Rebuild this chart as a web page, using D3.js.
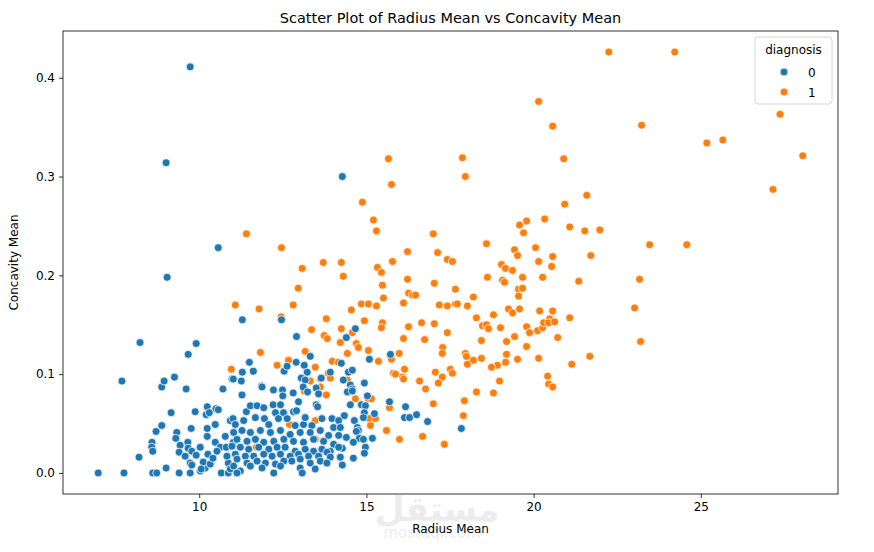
<!DOCTYPE html>
<html>
<head>
<meta charset="utf-8">
<script src="https://cdn.jsdelivr.net/npm/d3@7"></script>
<style>
	body { margin: 0; background: #fff; }
	text { font-family: 'DejaVu Sans', sans-serif; fill: #000; }
</style>
</head>
<body>
<div id="vis"></div>
<script>
// diagnosis 0 (benign) - radius mean / concavity mean
var benignRadius = [
	6.98, 7.75, 8.61, 8.73, 9.01, 9.40, 9.73, 10.03, 10.18, 10.66, 10.87, 10.12, 10.06, 10.33, 10.87, 10.93,
	9.73, 9.78, 8.20, 8.59, 8.58, 8.61, 8.71, 8.88, 8.88, 8.95, 9.26, 9.61, 10.71, 10.98, 9.91, 9.67,
	8.23, 7.69, 9.16, 9.88, 10.24, 10.50, 10.57, 10.21, 10.30, 10.93, 11.01, 10.48, 9.76, 10.24, 9.33, 9.30,
	10.24, 10.78, 9.43, 9.66, 9.67, 9.78, 9.40, 9.58, 10.03, 10.48, 10.63, 10.53, 10.81, 11.02, 10.26, 10.41,
	9.91, 10.83,
	9.73, 9.01, 9.04, 10.57, 14.28, 11.29, 12.46, 12.91, 13.32, 11.50, 11.29, 11.62, 11.02, 11.26, 11.86, 12.22,
	12.49, 12.54, 12.63, 12.90, 13.14, 13.23, 13.05, 13.17, 13.11, 13.65, 13.92, 13.50, 14.31, 14.67, 14.40, 15.72,
	15.09, 14.25, 14.46, 14.58, 14.94, 14.52, 14.58, 14.43, 14.58, 15.03, 14.85, 14.52, 14.97, 14.94, 14.91, 15.24,
	14.34, 14.64, 15.69, 16.17, 16.14, 16.29, 16.50, 16.83, 14.73, 14.76, 14.70, 14.40, 14.79, 14.91, 15.18, 14.61,
	14.97, 14.28, 14.94, 14.61, 14.28, 17.84,
	11.28, 11.88, 12.50, 12.81, 12.97, 13.24, 13.57, 11.41, 11.53, 11.73, 11.93, 12.21, 12.43, 12.28, 12.52, 12.82,
	12.91, 13.50, 13.54, 11.08, 11.33, 11.68, 11.95, 12.08, 12.37, 12.63, 12.87, 13.12, 13.37, 13.67, 13.97, 14.17,
	14.02, 14.22, 13.17, 11.03, 11.28, 11.53, 11.83, 12.13, 12.43, 12.72, 13.02, 13.32, 13.62, 13.87, 14.17, 11.13,
	11.43, 11.68, 11.93, 12.23, 12.53, 12.82, 13.12, 13.42, 13.72, 14.02, 10.98, 11.23, 11.48, 11.78, 12.08, 12.33,
	12.57, 12.87, 13.17, 13.42, 13.67, 13.92, 14.17, 11.08, 11.38, 11.63, 11.93, 12.18, 12.43, 12.72, 12.97, 13.27,
	13.57, 13.82, 11.13, 11.43, 11.73, 11.98, 12.28, 12.53, 12.77, 13.02, 13.32, 13.62, 13.92, 14.22, 11.03, 11.23,
	11.53, 11.88, 12.43, 13.02, 13.47, 13.82, 11.13, 12.23, 13.08
];
var benignConcavity = [
	0.000, 0.000, 0.000, 0.000, 0.005, 0.000, 0.000, 0.002, 0.005, 0.000, 0.000, 0.011, 0.004, 0.009, 0.010, 0.004,
	0.010, 0.008, 0.016, 0.031, 0.026, 0.022, 0.042, 0.048, 0.087, 0.093, 0.097, 0.085, 0.085, 0.095, 0.131, 0.120,
	0.132, 0.093, 0.061, 0.062, 0.067, 0.065, 0.064, 0.059, 0.061, 0.053, 0.055, 0.049, 0.045, 0.045, 0.041, 0.035,
	0.037, 0.037, 0.028, 0.031, 0.025, 0.022, 0.021, 0.017, 0.026, 0.031, 0.026, 0.022, 0.026, 0.031, 0.019, 0.015,
	0.018, 0.017,
	0.411, 0.314, 0.198, 0.228, 0.300, 0.155, 0.155, 0.138, 0.118, 0.112, 0.102, 0.103, 0.095, 0.093, 0.088, 0.084,
	0.084, 0.103, 0.108, 0.112, 0.109, 0.102, 0.096, 0.094, 0.087, 0.096, 0.102, 0.086, 0.094, 0.146, 0.137, 0.120,
	0.115, 0.111, 0.102, 0.104, 0.091, 0.089, 0.085, 0.082, 0.083, 0.078, 0.069, 0.069, 0.068, 0.061, 0.056, 0.060,
	0.058, 0.053, 0.072, 0.067, 0.056, 0.056, 0.059, 0.052, 0.046, 0.043, 0.042, 0.036, 0.035, 0.034, 0.035, 0.031,
	0.026, 0.025, 0.020, 0.015, 0.008, 0.045,
	0.079, 0.087, 0.078, 0.081, 0.072, 0.082, 0.080, 0.062, 0.068, 0.068, 0.066, 0.069, 0.069, 0.061, 0.061, 0.062,
	0.063, 0.069, 0.067, 0.049, 0.053, 0.056, 0.055, 0.049, 0.055, 0.055, 0.048, 0.049, 0.048, 0.055, 0.055, 0.053,
	0.046, 0.046, 0.056, 0.041, 0.043, 0.041, 0.043, 0.041, 0.043, 0.039, 0.041, 0.041, 0.043, 0.038, 0.038, 0.034,
	0.032, 0.034, 0.031, 0.032, 0.034, 0.032, 0.031, 0.034, 0.032, 0.029, 0.027, 0.026, 0.024, 0.026, 0.024, 0.026,
	0.026, 0.022, 0.024, 0.022, 0.024, 0.022, 0.026, 0.019, 0.017, 0.017, 0.019, 0.017, 0.019, 0.017, 0.019, 0.017,
	0.017, 0.021, 0.014, 0.010, 0.012, 0.010, 0.009, 0.012, 0.012, 0.014, 0.010, 0.012, 0.016, 0.016, 0.007, 0.002,
	0.007, 0.005, 0.007, 0.005, 0.004, 0.010, 0.000, 0.000, 0.000
];

// diagnosis 1 (malignant)
var malignantRadius = [
	22.25, 24.22, 20.15, 20.57, 23.23, 27.37, 25.66, 25.18, 28.05, 27.16, 20.90, 21.59, 20.93, 21.08, 21.53, 21.98,
	20.33, 19.79, 19.58, 21.71, 23.47, 24.58, 23.17, 23.02, 23.20, 21.35, 21.08, 21.68, 21.14, 20.42, 20.45, 20.57,
	20.72, 17.87, 17.96, 15.66, 15.75, 14.88, 15.21, 15.30, 14.25, 13.71, 14.31, 11.41, 12.46, 13.08, 12.96, 12.81,
	12.45, 11.08, 11.79, 10.96, 11.83, 13.17, 12.67, 12.33, 13.47, 13.98, 14.16, 13.86, 13.92, 13.62, 13.32, 13.80,
	13.36, 13.74, 13.83, 14.25, 14.22, 15.51, 16.26, 16.38, 16.47, 16.11, 14.85, 15.06, 15.30, 14.55, 17.18, 17.42,
	17.66, 14.94, 15.48, 15.45, 16.26, 16.65, 17.03, 17.42, 14.58, 16.11, 16.74, 14.70, 14.76, 15.06, 17.28, 17.27,
	15.98, 14.43, 15.75, 15.36, 15.81, 15.87, 16.14, 16.08, 16.11, 17.06, 17.51, 17.57, 17.27, 16.59, 17.15, 16.77,
	14.43, 14.67, 15.06, 15.15, 15.69, 15.09, 15.27, 15.12, 15.60, 17.00, 15.99, 16.68, 17.33,
	17.00, 18.59, 16.23, 17.13, 15.78, 17.42, 17.57, 15.33, 15.45, 16.23, 18.62, 17.03, 15.48, 17.66, 18.20,
	19.70, 20.06, 19.43, 19.52, 20.57, 20.15, 20.54, 19.04, 19.16, 19.37, 19.67, 20.27, 19.07, 19.13, 19.55, 19.67,
	19.55, 17.72, 18.02, 19.25, 19.37, 19.58, 20.18, 20.57, 18.80, 18.29, 18.47, 18.59, 18.65, 19.01, 19.79, 19.88,
	20.12, 20.27, 20.30, 20.48, 20.45, 20.63, 18.44, 19.19, 19.43, 19.79, 17.96, 17.99, 19.19, 18.44, 18.20, 19.52,
	20.15, 18.02, 18.92, 18.74, 19.16, 18.98, 18.29, 18.80, 17.93, 17.90,
	13.14, 13.80, 13.62, 13.47, 12.70, 11.71, 13.47
];
var malignantConcavity = [
	0.426, 0.426, 0.376, 0.351, 0.352, 0.363, 0.337, 0.334, 0.321, 0.287, 0.318, 0.281, 0.272, 0.249, 0.245, 0.246,
	0.257, 0.255, 0.251, 0.220, 0.231, 0.231, 0.196, 0.167, 0.133, 0.194, 0.157, 0.118, 0.110, 0.098, 0.090, 0.087,
	0.137, 0.319, 0.300, 0.318, 0.292, 0.274, 0.256, 0.245, 0.213, 0.213, 0.199, 0.242, 0.228, 0.207, 0.187, 0.170,
	0.158, 0.170, 0.166, 0.105, 0.122, 0.123, 0.114, 0.109, 0.107, 0.113, 0.112, 0.101, 0.096, 0.095, 0.093, 0.156,
	0.145, 0.139, 0.136, 0.146, 0.132, 0.177, 0.182, 0.180, 0.180, 0.172, 0.171, 0.171, 0.169, 0.165, 0.170, 0.169,
	0.171, 0.154, 0.152, 0.147, 0.148, 0.152, 0.151, 0.142, 0.142, 0.136, 0.135, 0.131, 0.127, 0.124, 0.127, 0.121,
	0.121, 0.121, 0.115, 0.113, 0.101, 0.100, 0.105, 0.097, 0.095, 0.102, 0.105, 0.101, 0.097, 0.093, 0.091, 0.085,
	0.094, 0.075, 0.075, 0.075, 0.066, 0.055, 0.055, 0.048, 0.043, 0.070, 0.034, 0.037, 0.029,
	0.242, 0.232, 0.224, 0.223, 0.214, 0.216, 0.214, 0.208, 0.203, 0.196, 0.198, 0.192, 0.190, 0.186, 0.178,
	0.243, 0.228, 0.226, 0.220, 0.219, 0.214, 0.209, 0.211, 0.207, 0.205, 0.198, 0.198, 0.195, 0.193, 0.186, 0.187,
	0.179, 0.171, 0.169, 0.166, 0.162, 0.166, 0.164, 0.164, 0.160, 0.157, 0.149, 0.150, 0.146, 0.147, 0.148, 0.142,
	0.144, 0.147, 0.152, 0.156, 0.152, 0.153, 0.134, 0.133, 0.138, 0.128, 0.121, 0.118, 0.120, 0.116, 0.114, 0.115,
	0.116, 0.110, 0.109, 0.107, 0.112, 0.093, 0.082, 0.081, 0.073, 0.058,
	0.083, 0.079, 0.087, 0.053, 0.049, 0.026, 0.034
];

var xTicks = [10, 15, 20, 25];
var yTicks = [0.0, 0.1, 0.2, 0.3, 0.4];
var diagnosisLabels = ['0', '1'];
var diagnosisColors = ['#1f77b4', '#ff7f0e'];

// layout of the figure
var width = 874,
	height = 552;
var margin = { top: 31, left: 63, bottom: 58, right: 36 };

var svg = d3.select('#vis').append('svg').attr('width', width).attr('height', height);

// build point list, malignant first so benign sits on top like the original
var points = [];
malignantRadius.forEach(function(r, i) {
	points.push({ radius: r, concavity: malignantConcavity[i], diagnosis: 1 });
});
benignRadius.forEach(function(r, i) {
	points.push({ radius: r, concavity: benignConcavity[i], diagnosis: 0 });
});

// matplotlib style 5% padding around the data
var xExt = d3.extent(points, function(d) { return d.radius; });
var yExt = d3.extent(points, function(d) { return d.concavity; });
var xPad = (xExt[1] - xExt[0]) * 0.05,
	yPad = (yExt[1] - yExt[0]) * 0.05;

var x = d3.scaleLinear()
	.domain([xExt[0] - xPad, xExt[1] + xPad])
	.range([margin.left, width - margin.right]);
var y = d3.scaleLinear()
	.domain([yExt[0] - yPad, yExt[1] + yPad])
	.range([height - margin.bottom, margin.top]);

// watermark behind everything
svg.append('text')
	.attr('x', 437).attr('y', 521)
	.attr('text-anchor', 'middle')
	.style('font-family', "'Noto Sans', 'DejaVu Sans', sans-serif")
	.style('font-size', '34px')
	.style('font-weight', 'bold')
	.style('fill', '#ececec')
	.text('مستقل');
svg.append('text')
	.attr('x', 432).attr('y', 538)
	.attr('text-anchor', 'middle')
	.style('font-size', '15px')
	.style('fill', '#ececec')
	.text('mostaql.com');

// scatter points
svg.append('g')
	.selectAll('circle')
	.data(points)
	.enter()
	.append('circle')
	.attr('cx', function(d) { return x(d.radius); })
	.attr('cy', function(d) { return y(d.concavity); })
	.attr('r', 4)
	.attr('fill', function(d) { return diagnosisColors[d.diagnosis]; })
	.attr('stroke', '#fff')
	.attr('stroke-width', 0.75);

// axes
var xAxis = d3.axisBottom(x).tickValues(xTicks).tickSize(4).tickPadding(4).tickSizeOuter(0);
var yAxis = d3.axisLeft(y).tickValues(yTicks).tickSize(4).tickPadding(4).tickSizeOuter(0)
	.tickFormat(d3.format('.1f'));

var gx = svg.append('g')
	.attr('transform', 'translate(0,' + (height - margin.bottom) + ')')
	.call(xAxis);
var gy = svg.append('g')
	.attr('transform', 'translate(' + margin.left + ',0)')
	.call(yAxis);
gx.select('.domain').remove();
gy.select('.domain').remove();
svg.selectAll('.tick line').attr('stroke', '#000').attr('stroke-width', 0.8);
svg.selectAll('.tick text').style('font-size', '12px').style('font-family', "'DejaVu Sans', sans-serif");

// frame (all four spines)
svg.append('rect')
	.attr('x', margin.left)
	.attr('y', margin.top)
	.attr('width', width - margin.left - margin.right)
	.attr('height', height - margin.top - margin.bottom)
	.attr('fill', 'none')
	.attr('stroke', '#000')
	.attr('stroke-width', 0.8);

// title and axis labels
svg.append('text')
	.attr('x', (margin.left + width - margin.right) / 2)
	.attr('y', 23)
	.attr('text-anchor', 'middle')
	.style('font-size', '14.5px')
	.text('Scatter Plot of Radius Mean vs Concavity Mean');

svg.append('text')
	.attr('x', (margin.left + width - margin.right) / 2)
	.attr('y', 533)
	.attr('text-anchor', 'middle')
	.style('font-size', '12px')
	.text('Radius Mean');

svg.append('text')
	.attr('transform', 'translate(18,' + (margin.top + height - margin.bottom) / 2 + ') rotate(-90)')
	.attr('text-anchor', 'middle')
	.style('font-size', '12px')
	.text('Concavity Mean');

// legend
var legend = svg.append('g').attr('transform', 'translate(755,37)');
legend.append('rect')
	.attr('width', 77)
	.attr('height', 67)
	.attr('rx', 3)
	.attr('fill', '#fff')
	.attr('fill-opacity', 0.8)
	.attr('stroke', '#cccccc')
	.attr('stroke-width', 0.8);
legend.append('text')
	.attr('x', 38.5)
	.attr('y', 17)
	.attr('text-anchor', 'middle')
	.style('font-size', '12px')
	.text('diagnosis');
var entries = legend.selectAll('.entry')
	.data(diagnosisLabels)
	.enter()
	.append('g')
	.attr('class', 'entry')
	.attr('transform', function(d, i) { return 'translate(0,' + (35 + i * 20) + ')'; });
entries.append('circle')
	.attr('cx', 29)
	.attr('cy', 0)
	.attr('r', 4)
	.attr('fill', function(d, i) { return diagnosisColors[i]; })
	.attr('stroke', '#fff')
	.attr('stroke-width', 0.75);
entries.append('text')
	.attr('x', 53)
	.attr('y', 4.5)
	.style('font-size', '12px')
	.text(function(d) { return d; });
</script>
</body>
</html>
